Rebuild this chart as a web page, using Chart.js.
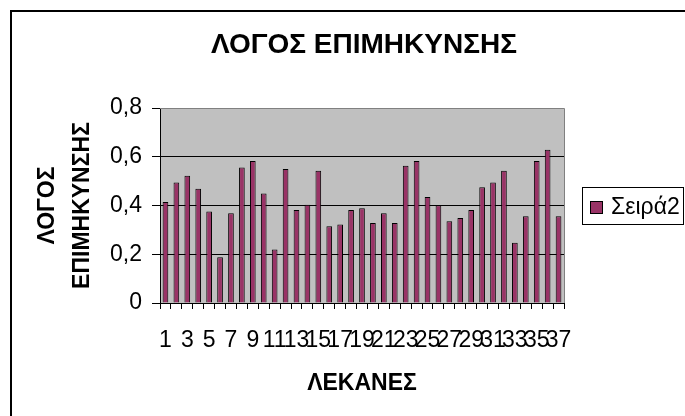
<!DOCTYPE html>
<html><head><meta charset="utf-8">
<script src="https://cdn.jsdelivr.net/npm/chart.js@4"></script>
<style>html,body{margin:0;padding:0;background:#fff}#wrap{position:relative;width:685px;height:416px}</style>
</head><body><div id="wrap"><canvas id="c" width="685" height="416"></canvas></div>
<script>
const categories = ['1','2','3','4','5','6','7','8','9','10','11','12','13','14','15','16','17','18','19','20','21','22','23','24','25','26','27','28','29','30','31','32','33','34','35','36','37'];
const ratios = [0.414,0.494,0.522,0.469,0.375,0.188,0.368,0.556,0.583,0.449,
                0.219,0.550,0.382,0.403,0.543,0.315,0.322,0.382,0.389,0.328,
                0.368,0.328,0.563,0.583,0.435,0.401,0.335,0.349,0.382,0.475,
                0.494,0.543,0.247,0.356,0.583,0.629,0.356];
const yTickLabels = ['0','0,2','0,4','0,6','0,8'];
const seriesName = 'Σειρά2';
const chartTitle = 'ΛΟΓΟΣ ΕΠΙΜΗΚΥΝΣΗΣ';
const xTitle = 'ΛΕΚΑΝΕΣ';
const yTitle = ['ΛΟΓΟΣ','ΕΠΙΜΗΚΥΝΣΗΣ'];

const FONT = '"Liberation Sans", Arial, sans-serif';

const decor = {
  id:'decor',
  beforeDraw(chart){
    const c = chart.ctx, a = chart.chartArea;
    c.save();
    c.fillStyle = '#fff'; c.fillRect(0,0,chart.width,chart.height);
    c.fillStyle = '#C0C0C0'; c.fillRect(a.left,a.top,a.right-a.left,a.bottom-a.top);
    c.restore();
  },
  afterDraw(chart){
    const c = chart.ctx, a = chart.chartArea;
    c.save();
    c.strokeStyle = '#808080'; c.lineWidth = 1;
    c.beginPath();
    c.moveTo(a.left, Math.round(a.top)+0.5); c.lineTo(Math.round(a.right)+0.5, Math.round(a.top)+0.5);
    c.lineTo(Math.round(a.right)+0.5, a.bottom);
    c.stroke();
    c.strokeStyle = '#000'; c.lineWidth = 2;
    c.beginPath();
    c.moveTo(11, chart.height+2); c.lineTo(11, 11); c.lineTo(chart.width+2, 11);
    c.stroke();
    c.fillStyle = '#000';
    c.font = 'bold 28px ' + FONT;
    c.textAlign = 'center'; c.textBaseline = 'middle';
    c.fillText(chartTitle, 364, 45);
    const ds = chart.data.datasets[0];
    c.lineWidth = 1; c.strokeStyle = '#000';
    c.strokeRect(582.5, 187.5, 101, 37);
    c.fillStyle = ds.backgroundColor;
    c.fillRect(590, 201, 12, 12);
    c.strokeRect(590.5, 201.5, 12, 12);
    c.fillStyle = '#000';
    c.textAlign = 'left';
    c.font = '23px ' + FONT;
    c.fillText(ds.label, 611, 208);
    c.restore();
  }
};

new Chart(document.getElementById('c'), {
  type:'bar',
  data:{labels:categories, datasets:[{label:seriesName, data:ratios, backgroundColor:'#993366', borderColor:'#000', borderWidth:1, categoryPercentage:1, barPercentage:0.52}]},
  options:{
    responsive:false, animation:false, devicePixelRatio:1,
    layout:{padding:{left:10, top:108, right:121, bottom:0}},
    plugins:{legend:{display:false}, title:{display:false}, tooltip:{enabled:false}},
    scales:{
      x:{
        grid:{display:true, drawOnChartArea:false, drawTicks:true, tickLength:6, color:'#000', offset:true},
        border:{color:'#000', width:1},
        ticks:{autoSkip:false, maxRotation:0, minRotation:0, padding:18, color:'#000', font:{family:FONT, size:23},
          callback:(v,i)=> i%2===0 ? categories[i] : ''},
        title:{display:true, text:xTitle, color:'#000', font:{family:FONT, size:23, weight:'bold'}, padding:{top:0, bottom:19}},
        afterFit:s=>{ s.height = 113; }
      },
      y:{
        min:0, max:0.8,
        ticks:{stepSize:0.2, padding:10, color:'#000', font:{family:FONT, size:23},
          callback:(v,i)=> yTickLabels[i]},
        grid:{color:(ctx)=> (ctx.tick && ctx.tick.value >= 0.79) ? 'rgba(0,0,0,0)' : '#000', tickColor:'#000', tickLength:8, drawTicks:true},
        border:{color:'#000'},
        title:{display:true, text:yTitle, color:'#000', font:{family:FONT, size:23, weight:'bold', lineHeight:1.52}, padding:{top:20.5, bottom:0}},
        afterFit:s=>{ s.width = 150; }
      }
    }
  },
  plugins:[decor]
});
</script>
</body></html>
